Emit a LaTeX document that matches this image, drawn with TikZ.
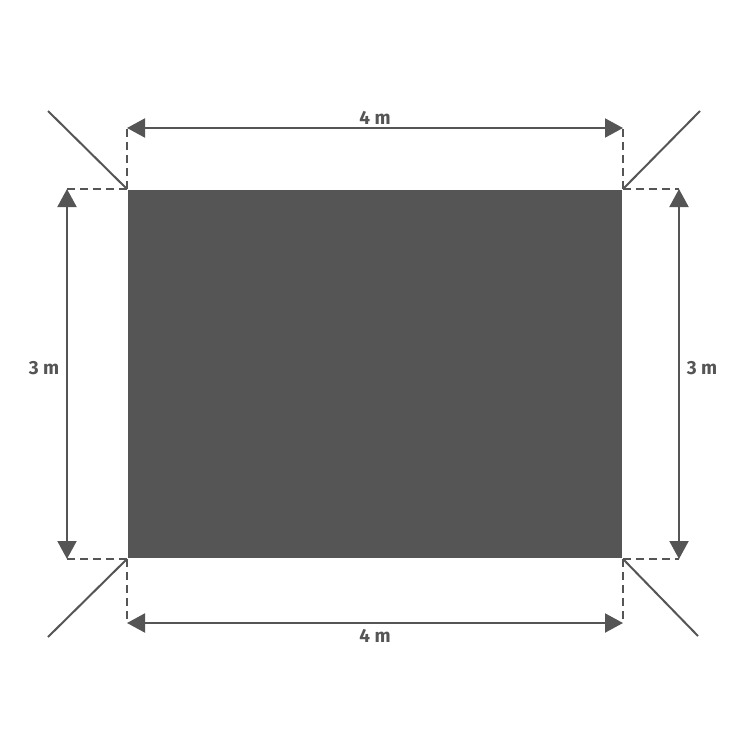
\documentclass[tikz,border=0pt]{standalone}
\usepackage{fontspec}
\setmainfont{Fira Sans}
\usetikzlibrary{arrows.meta,calc}
\definecolor{shade}{HTML}{555555}
\begin{document}
\begin{tikzpicture}[x=1pt,y=-1pt,color=shade,line width=2pt,
		dim/.style={{Triangle[length=18pt,width=19pt]}-{Triangle[length=18pt,width=19pt]}},
		ext/.style={dash pattern=on 8pt off 5pt,line width=1.3pt},
		lbl/.style={font=\fontsize{19}{22}\selectfont\bfseries,inner sep=0pt}]
		\useasboundingbox (0,0) rectangle (750,750);
		\node[fill=shade,inner sep=0pt,minimum width=494pt,minimum height=368pt] (S) at (375,374) {};
		% ends of the corner lines
		\foreach \c/\x/\y in {north west/48/111, north east/700/111, south west/48/637, south east/698/636}
		\coordinate (E-\c) at (\x,\y);
		\foreach \c in {north west,north east,south west,south east} \draw (S.\c) -- (E-\c);
		% dimension lines
		\coordinate (T1) at ($(S.north west)+(0,-61)$);
		\coordinate (T2) at ($(S.north east)+(0,-61)$);
		\coordinate (B1) at ($(S.south west)+(0,64)$);
		\coordinate (B2) at ($(S.south east)+(0,64)$);
		\coordinate (L1) at ($(S.north west)+(-60,0)$);
		\coordinate (L2) at ($(S.south west)+(-60,0)$);
		\coordinate (R1) at ($(S.north east)+(56,0)$);
		\coordinate (R2) at ($(S.south east)+(56,0)$);
		\draw[ext] (S.north west) -- (T1) (S.north east) -- (T2) (S.south west) -- (B1) (S.south east) -- (B2);
		\draw[ext] (S.north west) -- (L1) (S.south west) -- (L2) (S.north east) -- (R1) (S.south east) -- (R2);
		\draw[dim] (T1) -- (T2);
		\draw[dim] (B1) -- (B2);
		\draw[dim] (L1) -- (L2);
		\draw[dim] (R1) -- (R2);
		\node[lbl] (top) at (375,118) {4 m};
		\node[lbl] (bot) at (375,636) {4 m};
		\node[lbl] (lft) at (44,368) {3 m};
		\node[lbl] (rgt) at (702,368) {3 m};
	\end{tikzpicture}
\end{document}
